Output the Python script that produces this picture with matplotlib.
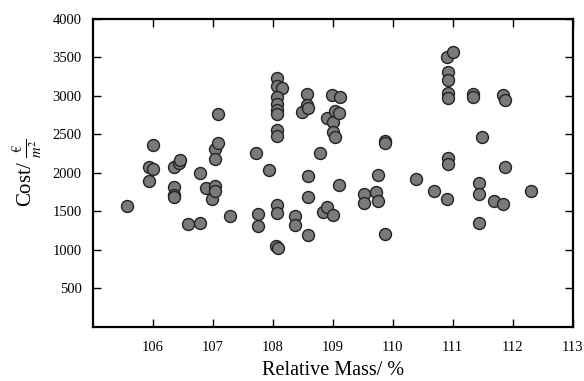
import matplotlib
matplotlib.use("Agg")
import matplotlib.pyplot as plt

plt.rcParams['font.family'] = ['Liberation Serif', 'DejaVu Serif']
plt.rcParams['mathtext.fontset'] = 'stix'

rel_mass = [105.57, 105.93, 105.94, 106.01, 106.01, 106.36, 106.36, 106.36, 106.36,
            106.44, 106.46, 106.58, 106.78, 106.78, 106.89, 106.98, 107.03, 107.03,
            107.03, 107.03, 107.09, 107.09, 107.29, 107.72, 107.76, 107.76, 107.94,
            108.05, 108.08, 108.07, 108.07, 108.07, 108.07, 108.15, 108.07, 108.07,
            108.07, 108.07, 108.07, 108.07, 108.38, 108.38, 108.49, 108.57, 108.57,
            108.58, 108.58, 108.58, 108.58, 108.79, 108.83, 108.91, 108.91, 108.98,
            109.01, 109.01, 109.01, 109.04, 109.04, 109.11, 109.12, 109.11, 109.52,
            109.52, 109.72, 109.76, 109.76, 109.88, 109.88, 109.88, 110.39, 110.68,
            110.91, 110.92, 110.92, 110.92, 110.92, 110.92, 110.92, 110.91, 111.00,
            111.34, 111.34, 111.43, 111.43, 111.43, 111.49, 111.68, 111.84, 111.84,
            111.88, 111.88, 112.30]
cost = [1572, 2078, 1897, 2360, 2045, 2078, 1819, 1711, 1681,
        2123, 2165, 1330, 2000, 1351, 1806, 1659, 2308, 2178,
        1828, 1763, 2382, 2759, 1438, 2260, 1464, 1312, 2036,
        1048, 1018, 1581, 1473, 3227, 3127, 3101, 2988, 2889,
        2820, 2759, 2555, 2481, 1438, 1321, 2785, 3023, 2880,
        2837, 1961, 1681, 1191, 2260, 1494, 1559, 2707, 3010,
        2663, 2525, 1451, 2806, 2460, 2780, 2988, 1841, 1720,
        1603, 1754, 1970, 1637, 2416, 2382, 1204, 1919, 1759,
        1659, 2187, 2113, 3305, 3205, 3032, 2967, 3500, 3564,
        3023, 2988, 1863, 1728, 1343, 2468, 1633, 1590, 3014,
        2945, 2078, 1763]

x_ticks = [106, 107, 108, 109, 110, 111, 112, 113]
y_ticks = [500, 1000, 1500, 2000, 2500, 3000, 3500, 4000]

fig = plt.figure(figsize=(5.84, 3.81), dpi=100)
ax = fig.add_axes([92.7/584, 1-326.7/381, (572.7-92.7)/584, (326.7-18.8)/381])

ax.scatter(rel_mass, cost, s=74, facecolor='#7a7a7a', edgecolor='#222222',
           linewidth=1.0, zorder=3)

ax.set_xlim(105, 113)
ax.set_ylim(0, 4000)
ax.set_xticks(x_ticks)
ax.set_yticks(y_ticks)
ax.tick_params(direction='in', top=True, right=True, length=5.5, width=1,
               labelsize=10.5)
ax.tick_params(axis='x', pad=10)
ax.tick_params(axis='y', pad=8)
for sp in ax.spines.values():
    sp.set_linewidth(1.6)

ax.set_xlabel('Relative Mass/ %', fontsize=14.5, labelpad=5)
ax.set_ylabel(r'Cost/ $\frac{€}{m^2}$', fontsize=15, labelpad=6)

fig.savefig('out.png', dpi=100)
